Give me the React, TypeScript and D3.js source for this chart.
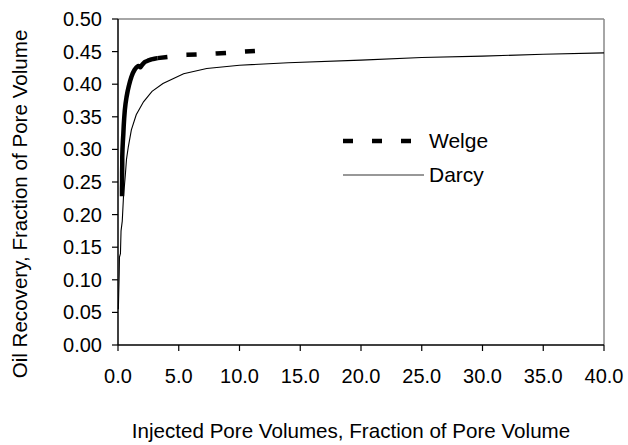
import React from "react";
import * as d3 from "d3";

const welgeX = [0.33, 0.33, 0.34, 0.34, 0.35, 0.35, 0.37, 0.40, 0.44, 0.47, 0.51, 0.56, 0.62, 0.70, 0.80, 0.90, 1.00, 1.10, 1.22, 1.36, 1.52, 1.68, 1.85, 2.00, 2.20, 2.45, 2.75, 3.00, 3.25, 5.65, 8.07, 10.45, 11.28];
const welgeY = [0.228, 0.240, 0.252, 0.264, 0.276, 0.288, 0.300, 0.312, 0.324, 0.336, 0.348, 0.360, 0.370, 0.380, 0.390, 0.398, 0.405, 0.411, 0.417, 0.422, 0.426, 0.428, 0.426, 0.430, 0.434, 0.436, 0.438, 0.439, 0.440, 0.445, 0.447, 0.450, 0.451];

const darcyX = [0.03, 0.06, 0.1, 0.12, 0.2, 0.25, 0.35, 0.45, 0.6, 0.7, 0.85, 1.1, 1.5, 2.1, 2.8, 3.7, 5.4, 7.3, 10, 14, 20, 25, 30, 35, 40];
const darcyY = [0.055, 0.08, 0.11, 0.135, 0.14, 0.175, 0.19, 0.227, 0.26, 0.285, 0.304, 0.33, 0.353, 0.373, 0.389, 0.401, 0.416, 0.424, 0.429, 0.433, 0.437, 0.441, 0.443, 0.446, 0.448];

const xTicks = [0, 5, 10, 15, 20, 25, 30, 35, 40];
const yTicks = [0, 0.05, 0.1, 0.15, 0.2, 0.25, 0.3, 0.35, 0.4, 0.45, 0.5];
const seriesNames = ["Welge", "Darcy"];
const xTitle = "Injected Pore Volumes, Fraction of Pore Volume";
const yTitle = "Oil Recovery, Fraction of Pore Volume";

const W = 628, H = 445;
const L = 118, R = 604, T = 19, B = 345;
const FONT = "'Liberation Sans', Arial, sans-serif";
const DASH_ON = 10, DASH_OFF = 19;

export default function App() {
  const x = d3.scaleLinear().domain([0, 40]).range([L, R]);
  const y = d3.scaleLinear().domain([0, 0.5]).range([B, T]);
  const line = d3.line<[number, number]>().x(d => x(d[0])).y(d => y(d[1]));
  const welge: [number, number][] = welgeX.map((v, i) => [v, welgeY[i]]);
  const darcy: [number, number][] = darcyX.map((v, i) => [v, darcyY[i]]);

  // Excel restarts the dash pattern on every segment: short segments come out solid.
  const segs = d3.pairs(welge);
  const segLen = (s: [number, number][]) => Math.hypot(x(s[1][0]) - x(s[0][0]), y(s[1][1]) - y(s[0][1]));
  const solidRuns: [number, number][][] = [];
  const dashed: [number, number][][] = [];
  let run: [number, number][] | null = null;
  segs.forEach(s => {
    if (segLen(s) <= DASH_ON) {
      if (!run) { run = [s[0]]; solidRuns.push(run); }
      run.push(s[1]);
    } else {
      run = null;
      dashed.push(s);
    }
  });
  const dash = `${DASH_ON},${DASH_OFF}`;

  return (
    <svg width={W} height={H} style={{ position: "absolute", left: 0, top: 0, background: "#fff" }} fontFamily={FONT}>
      <rect x={0} y={0} width={W} height={H} fill="#fff" />
      <line x1={L} x2={R} y1={T} y2={T} stroke="#888" strokeWidth={1.5} />
      <line x1={R} x2={R} y1={T} y2={B} stroke="#888" strokeWidth={1.5} />
      <line x1={L} x2={R} y1={B} y2={B} stroke="#000" strokeWidth={1.5} />
      <line x1={L} x2={L} y1={T} y2={B} stroke="#000" strokeWidth={1.5} />
      {yTicks.map(t => (
        <g key={"y" + t}>
          <line x1={L - 6} x2={L} y1={y(t)} y2={y(t)} stroke="#000" strokeWidth={1.2} />
          <text x={102} y={y(t)} dy="0.35em" textAnchor="end" fontSize={20} fill="#000">{t.toFixed(2)}</text>
        </g>
      ))}
      {xTicks.map(t => (
        <g key={"x" + t}>
          <line x1={x(t)} x2={x(t)} y1={B} y2={B + 6} stroke="#000" strokeWidth={1.2} />
          <text x={x(t)} y={383} textAnchor="middle" fontSize={20} fill="#000">{t.toFixed(1)}</text>
        </g>
      ))}
      <path d={line(darcy) || ""} fill="none" stroke="#000" strokeWidth={1.1} />
      {solidRuns.map((r, i) => (
        <path key={"s" + i} d={line(r) || ""} fill="none" stroke="#000" strokeWidth={4.5} strokeLinejoin="round" />
      ))}
      {dashed.map((s, i) => (
        <path key={"d" + i} d={line(s) || ""} fill="none" stroke="#000" strokeWidth={4.5} strokeDasharray={dash} />
      ))}
      <line x1={343} x2={424} y1={141} y2={141} stroke="#000" strokeWidth={4.5} strokeDasharray={dash} />
      <text x={429} y={141} dy="0.35em" fontSize={21} fill="#000">{seriesNames[0]}</text>
      <line x1={343} x2={424} y1={175} y2={175} stroke="#333" strokeWidth={1.1} />
      <text x={429} y={175} dy="0.35em" fontSize={21} fill="#000">{seriesNames[1]}</text>
      <text x={351} y={438} textAnchor="middle" fontSize={20.6} fill="#000">{xTitle}</text>
      <text transform={`translate(27,204) rotate(-90)`} textAnchor="middle" fontSize={20.6} fill="#000">{yTitle}</text>
    </svg>
  );
}
